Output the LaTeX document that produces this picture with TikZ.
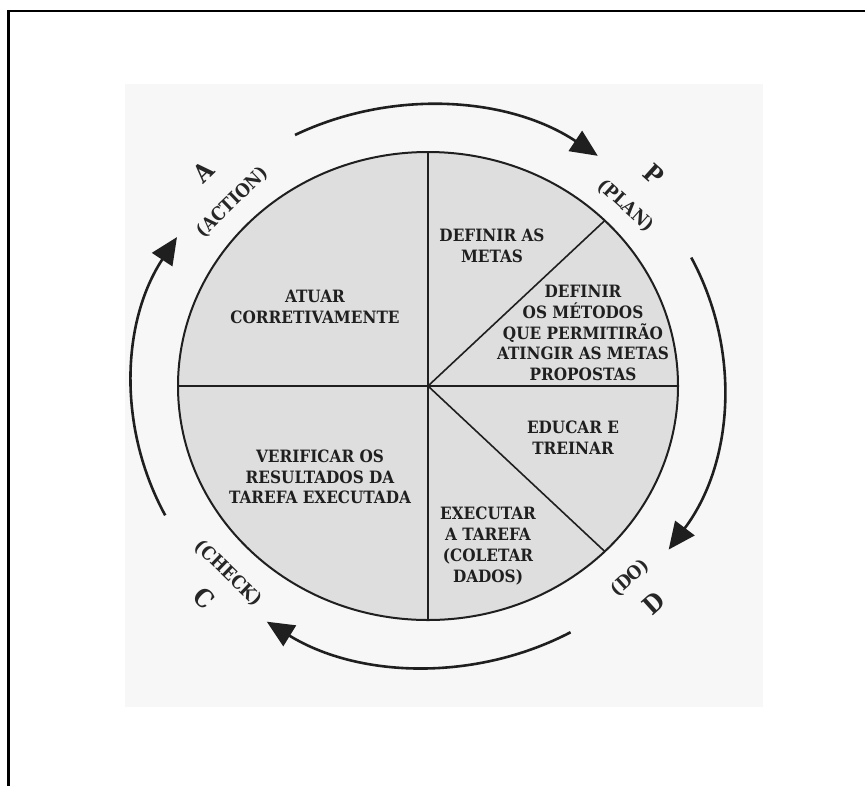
\documentclass[tikz,border=0pt]{standalone}
\usepackage{fontspec}
\setmainfont{DejaVu Serif Condensed}
\usetikzlibrary{arrows.meta}
\newcommand{\bigletter}{\bfseries\fontsize{25}{38}\selectfont}
\begin{document}
\begin{tikzpicture}[x=1pt,y=1pt,
  inner/.style={font=\bfseries\fontsize{17}{20.7}\selectfont, align=center, text=black!88, inner sep=0pt},
  phase/.style={font=\bfseries\fontsize{18.5}{38}\selectfont, align=center, text=black!85, inner sep=0pt},
  cyc/.style={line width=2.6pt, draw=black!88, -{Triangle[length=27pt,width=24pt]}},
  divider/.style={line width=1.6pt, draw=black!88}]
\useasboundingbox (0,0) rectangle (865,-785);
% frame and scanned page
\draw[line width=2.8pt] (8.5,-795) -- (8.5,-11) -- (875,-11);
\fill[black!3] (125,-84) rectangle (763,-707);
% wheel
\coordinate (O) at (428,-386);
\draw[fill=black!13, draw=black!88, line width=2pt] (O) ellipse[x radius=250, y radius=234];
\path (O) ++(90:250 and 234) coordinate (N)
      (O) ++(-90:250 and 234) coordinate (S)
      (O) ++(180:250 and 234) coordinate (W)
      (O) ++(0:250 and 234) coordinate (E)
      (O) ++(45:250 and 234) coordinate (NE)
      (O) ++(-45:250 and 234) coordinate (SE);
\draw[divider] (N) -- (S);
\draw[divider] (W) -- (E);
\draw[divider] (O) -- (NE);
\draw[divider] (O) -- (SE);
% cycle arrows
\path (O) ++(116.7:296 and 281) coordinate (t1)
      (O) ++(27.2:296 and 281) coordinate (r1)
      (O) ++(-61.2:296 and 281) coordinate (b1)
      (O) ++(207.4:296 and 281) coordinate (l1);
\draw[cyc] (t1) arc[start angle=116.7, end angle=55, x radius=296, y radius=281];
\draw[cyc] (r1) arc[start angle=27.2, end angle=-35.6, x radius=296, y radius=281];
\draw[cyc] (b1) arc[start angle=-61.2, end angle=-123, x radius=296, y radius=281];
\draw[cyc] (l1) arc[start angle=207.4, end angle=148, x radius=296, y radius=281];
% texts in sectors
\node[inner] (act) at (315,-307) {ATUAR\\CORRETIVAMENTE};
\node[inner] (metas) at (492,-246) {DEFINIR AS\\METAS};
\node[inner] (met) at (583,-333) {DEFINIR\\OS MÉTODOS\\QUE PERMITIRÃO\\ATINGIR AS METAS\\PROPOSTAS};
\node[inner] (edu) at (573,-438) {EDUCAR E\\TREINAR};
\node[inner] (exe) at (488,-546) {EXECUTAR\\A TAREFA\\(COLETAR\\DADOS)};
\node[inner] (ver) at (320,-477) {VERIFICAR OS\\RESULTADOS DA\\TAREFA EXECUTADA};
% outer labels
\node[phase, rotate=44] (A) at (218,-187) {{\bigletter A}\\(ACTION)};
\node[phase, rotate=-42] (P) at (640,-190) {{\bigletter P}\\(PLAN)};
\node[phase, rotate=42] (D) at (642,-591) {(DO)\\{\bigletter D}};
\node[phase, rotate=-44] (C) at (216,-586) {(CHECK)\\{\bigletter C}};
\end{tikzpicture}
\end{document}
